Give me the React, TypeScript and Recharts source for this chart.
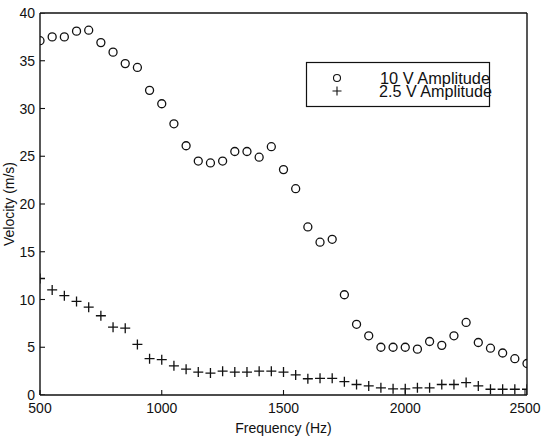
import React from 'react';
import { ScatterChart, Scatter, XAxis, YAxis, Legend } from 'recharts';

const frequencies = [
  500, 550, 600, 650, 700, 750, 800, 850, 900, 950, 1000, 1050, 1100, 1150,
  1200, 1250, 1300, 1350, 1400, 1450, 1500, 1550, 1600, 1650, 1700, 1750,
  1800, 1850, 1900, 1950, 2000, 2050, 2100, 2150, 2200, 2250, 2300, 2350,
  2400, 2450, 2500,
];

const amp10V = [
  37.1, 37.5, 37.5, 38.1, 38.2, 36.9, 35.9, 34.7, 34.3, 31.9, 30.5, 28.4,
  26.1, 24.5, 24.3, 24.5, 25.5, 25.5, 24.9, 26.0, 23.6, 21.6, 17.6, 16.0,
  16.3, 10.5, 7.4, 6.2, 5.0, 5.0, 5.0, 4.8, 5.6, 5.2, 6.2, 7.6, 5.5, 4.9,
  4.4, 3.8, 3.3,
];

const amp2_5V = [
  12.2, 11.0, 10.4, 9.8, 9.2, 8.3, 7.1, 7.0, 5.3, 3.8, 3.7, 3.06, 2.7, 2.4,
  2.3, 2.5, 2.4, 2.4, 2.5, 2.5, 2.4, 2.1, 1.7, 1.75, 1.75, 1.4, 1.1, 0.95,
  0.75, 0.65, 0.65, 0.75, 0.75, 1.1, 1.1, 1.3, 0.95, 0.6, 0.6, 0.6, 0.6,
];

const xTicks = [500, 1000, 1500, 2000, 2500];
const yTicks = [0, 5, 10, 15, 20, 25, 30, 35, 40];

const data10 = frequencies.map((f, i) => ({ f, v: amp10V[i] }));
const data25 = frequencies.map((f, i) => ({ f, v: amp2_5V[i] }));
// inward tick marks on the left edge, placed by the scales
const leftTickData = yTicks.map((v) => ({ f: xTicks[0], v }));

const FONT = '"Liberation Sans", Arial, Helvetica, sans-serif';
const INK = '#111';
const TICK = 5;

const axisLine = { stroke: INK, strokeWidth: 1.4 };

// ticks point into the plot, like the old matlab box
const BottomTick = ({ x, y, payload }: any) => (
  <g>
    <line x1={x} x2={x} y1={y - 8} y2={y - 8 - TICK} stroke={INK} strokeWidth={1.1} />
    <text x={x} y={y + 10} textAnchor="middle" fontSize={14} fill={INK} fontFamily={FONT}>
      {payload.value}
    </text>
  </g>
);

const renderLeftTick = (p: any) => (
  <text
    key={`lt-${p.index}`}
    x={p.x}
    y={Number(p.y) + 5}
    textAnchor="end"
    fontSize={14}
    fill={INK}
    fontFamily={FONT}
  >
    {p.payload.value}
  </text>
);

const TopTick = ({ x, y }: any) => (
  <line x1={x} x2={x} y1={y} y2={y + TICK} stroke={INK} strokeWidth={1.1} />
);

const RightTick = ({ x, y }: any) => (
  <line x1={x} x2={x - TICK} y1={y} y2={y} stroke={INK} strokeWidth={1.1} />
);

const LeftTickMark = ({ cx, cy }: any) => (
  <line x1={cx} x2={cx + TICK} y1={cy} y2={cy} stroke={INK} strokeWidth={1.1} />
);

const Ring = (props: any) => {
  const { cx, cy } = props;
  return <circle cx={cx} cy={cy} r={4} fill="none" stroke={INK} strokeWidth={1.3} />;
};

const Cross = (props: any) => {
  const { cx, cy } = props;
  return (
    <path
      d={`M${cx - 5},${cy}H${cx + 5}M${cx},${cy - 5}V${cy + 5}`}
      stroke={INK}
      strokeWidth={1.3}
      fill="none"
    />
  );
};

const LegendBox = () => (
  <svg width={184} height={45} style={{ overflow: 'visible', display: 'block' }}>
    <rect x={0.5} y={0.5} width={183} height={44} fill="#fff" stroke={INK} strokeWidth={1.2} />
    <circle cx={31} cy={16} r={3.5} fill="none" stroke={INK} strokeWidth={1.1} />
    <path d="M26.5,29H35.5M31,24.5V33.5" stroke={INK} strokeWidth={1.1} />
    <text x={74} y={22} fontSize={16} fill={INK} fontFamily={FONT} textLength={110} lengthAdjust="spacingAndGlyphs">
      10 V Amplitude
    </text>
    <text x={73} y={35} fontSize={16} fill={INK} fontFamily={FONT} textLength={113} lengthAdjust="spacingAndGlyphs">
      2.5 V Amplitude
    </text>
  </svg>
);

export default function App() {
  return (
    <div style={{ position: 'absolute', left: 0, top: 0, background: '#fff' }}>
      <ScatterChart
        width={541}
        height={444}
        margin={{ top: 12, right: 13, left: 0, bottom: 0 }}
      >
        <XAxis
          xAxisId="bottom"
          type="number"
          dataKey="f"
          domain={[500, 2500]}
          ticks={xTicks}
          height={49}
          tickSize={0}
          tickMargin={8}
          axisLine={axisLine}
          tickLine={false}
          tick={<BottomTick />}
          allowDataOverflow
          label={{
            value: 'Frequency (Hz)',
            position: 'insideBottom',
            offset: 11,
            style: { fontSize: 14, fill: INK, fontFamily: FONT },
          }}
        />
        <XAxis
          xAxisId="top"
          orientation="top"
          type="number"
          dataKey="f"
          domain={[500, 2500]}
          ticks={xTicks}
          height={1}
          tickSize={0}
          tickMargin={0}
          tickLine={false}
          tick={<TopTick />}
          axisLine={axisLine}
        />
        <YAxis
          yAxisId="left"
          type="number"
          dataKey="v"
          domain={[0, 40]}
          ticks={yTicks}
          width={40}
          tickSize={0}
          tickMargin={5}
          axisLine={axisLine}
          tickLine={false}
          tick={renderLeftTick}
          allowDataOverflow
          label={{
            value: 'Velocity (m/s)',
            angle: -90,
            position: 'insideLeft',
            offset: 9,
            style: { fontSize: 14, fill: INK, fontFamily: FONT, textAnchor: 'middle' },
          }}
        />
        <YAxis
          yAxisId="right"
          orientation="right"
          type="number"
          dataKey="v"
          domain={[0, 40]}
          ticks={yTicks}
          width={1}
          tickSize={0}
          tickMargin={0}
          tickLine={false}
          tick={<RightTick />}
          axisLine={axisLine}
        />
        <Legend
          layout="horizontal"
          align="center"
          verticalAlign="middle"
          content={() => <LegendBox />}
          wrapperStyle={{ left: 306, top: 62, width: 184, height: 45 }}
        />
        <Scatter
          name="left ticks"
          data={leftTickData}
          xAxisId="bottom"
          yAxisId="left"
          shape={LeftTickMark}
          isAnimationActive={false}
        />
        <Scatter
          name="10 V Amplitude"
          data={data10}
          xAxisId="bottom"
          yAxisId="left"
          shape={Ring}
          isAnimationActive={false}
        />
        <Scatter
          name="2.5 V Amplitude"
          data={data25}
          xAxisId="bottom"
          yAxisId="left"
          shape={Cross}
          isAnimationActive={false}
        />
      </ScatterChart>
    </div>
  );
}
